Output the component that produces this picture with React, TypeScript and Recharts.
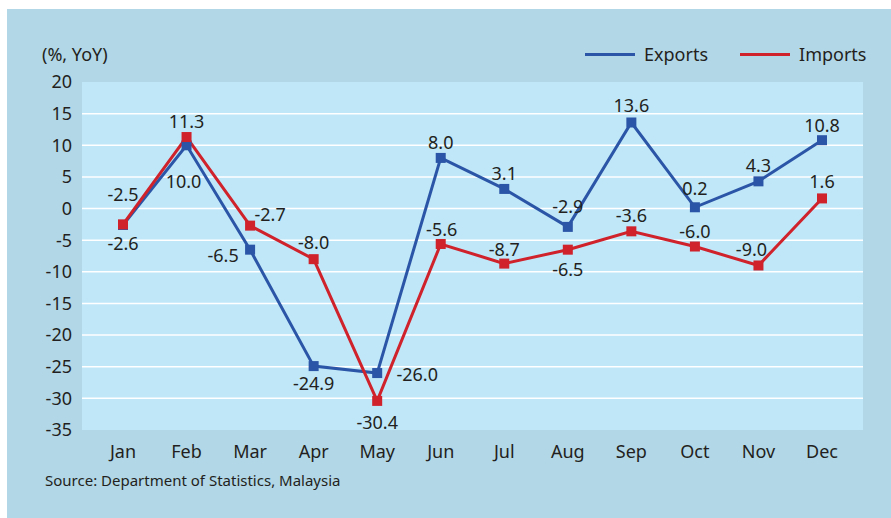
import React from "react";
import { LineChart, Line, XAxis, YAxis, ReferenceLine, LabelList } from "recharts";

const months = ["Jan", "Feb", "Mar", "Apr", "May", "Jun", "Jul", "Aug", "Sep", "Oct", "Nov", "Dec"];
const exportsYoY = [-2.6, 10.0, -6.5, -24.9, -26.0, 8.0, 3.1, -2.9, 13.6, 0.2, 4.3, 10.8];
const importsYoY = [-2.5, 11.3, -2.7, -8.0, -30.4, -5.6, -8.7, -6.5, -3.6, -6.0, -9.0, 1.6];
const yTicks = [20, 15, 10, 5, 0, -5, -10, -15, -20, -25, -30, -35];
const gridValues = [15, 10, 5, 0, -5, -10, -15, -20, -25, -30];
const seriesNames = ["Exports", "Imports"];

// label placement offsets (dx, dy of label centre relative to point)
const exportLabelOffsets: [number, number][] = [
  [0, 18], [-3, 36], [-27, 5], [0, 17], [40, 1], [0, -16], [0, -16], [0, -21], [0, -17], [0, -19], [0, -16], [0, -15],
];
const importLabelOffsets: [number, number][] = [
  [0, -30], [0, -16], [20, -12], [0, -17], [0, 21], [1, -15], [0, -15], [0, 19], [0, -16], [0, -16], [-7, -16], [0, -17],
];

const data = months.map((m, i) => ({ month: m, Exports: exportsYoY[i], Imports: importsYoY[i] }));

const BLUE = "#2b55a6";
const RED = "#cf222b";
const OUTER = "#b2d7e7";
const INNER = "#bfe7f8";
const TEXT = "#231f20";
const FONT = "'Noto Sans', 'Open Sans', sans-serif";
const seriesColors = [BLUE, RED];

const SquareDot = (color: string) => (props: any) => {
  const { cx, cy } = props;
  if (cx == null || cy == null) return null;
  return <rect x={cx - 5} y={cy - 5} width={10} height={10} fill={color} />;
};

const makeLabel = (offsets: [number, number][]) => (props: any) => {
  const { x, y, value, index } = props;
  const [dx, dy] = offsets[index] || [0, -16];
  return (
    <text x={x + dx} y={y + dy} textAnchor="middle" dominantBaseline="central" fill={TEXT} fontSize={18} fontFamily={FONT}>
      {Number(value).toFixed(1)}
    </text>
  );
};

export default function App() {
  return (
    <div style={{ position: "absolute", left: 0, top: 0, width: 891, height: 518, background: "#fff", overflow: "hidden" }}>
      <div style={{ position: "absolute", left: 7, top: 9, width: 884, height: 509, background: OUTER }} />
      <div style={{ position: "absolute", left: 82, top: 82, width: 781, height: 348, background: INNER }} />
      <div style={{ position: "absolute", left: 42, top: 42, fontFamily: FONT, fontSize: 18, color: TEXT, lineHeight: "24px" }}>(%, YoY)</div>
      <div style={{ position: "absolute", left: 45, top: 469, fontFamily: FONT, fontSize: 15, color: TEXT, lineHeight: "22px" }}>
        Source: Department of Statistics, Malaysia
      </div>
      <div style={{ position: "absolute", left: 585, top: 42, display: "flex", alignItems: "center", fontFamily: FONT, fontSize: 18, color: TEXT, lineHeight: "24px" }}>
        {seriesNames.map((n, i) => (
          <div key={n} style={{ display: "flex", alignItems: "center", marginLeft: i === 0 ? 0 : 32 }}>
            <div style={{ width: 50, height: 3, background: seriesColors[i], marginRight: 9 }} />
            <span>{n}</span>
          </div>
        ))}
      </div>
      <div style={{ position: "absolute", left: 0, top: 0 }}>
        <LineChart width={891} height={518} data={data} margin={{ top: 82, right: 28, bottom: 58, left: 0 }}>
          <XAxis
            dataKey="month"
            axisLine={false}
            tickLine={false}
            tickSize={0}
            tickMargin={15}
            height={30}
            padding={{ left: 41, right: 41 }}
            interval={0}
            tick={{ fill: TEXT, fontSize: 18, fontFamily: FONT }}
          />
          <YAxis
            domain={[-35, 20]}
            ticks={yTicks}
            axisLine={false}
            tickLine={false}
            tickSize={0}
            tickMargin={10}
            width={82}
            interval={0}
            tick={{ fill: TEXT, fontSize: 18, fontFamily: FONT }}
          />
          {gridValues.map((v) => (
            <ReferenceLine key={v} y={v} stroke="#ffffff" strokeWidth={1.5} />
          ))}
          <Line
            type="linear"
            dataKey="Exports"
            stroke={BLUE}
            strokeWidth={3}
            dot={SquareDot(BLUE)}
            activeDot={false}
            isAnimationActive={false}
          >
            <LabelList dataKey="Exports" content={makeLabel(exportLabelOffsets)} />
          </Line>
          <Line
            type="linear"
            dataKey="Imports"
            stroke={RED}
            strokeWidth={3}
            dot={SquareDot(RED)}
            activeDot={false}
            isAnimationActive={false}
          >
            <LabelList dataKey="Imports" content={makeLabel(importLabelOffsets)} />
          </Line>
        </LineChart>
      </div>
    </div>
  );
}
